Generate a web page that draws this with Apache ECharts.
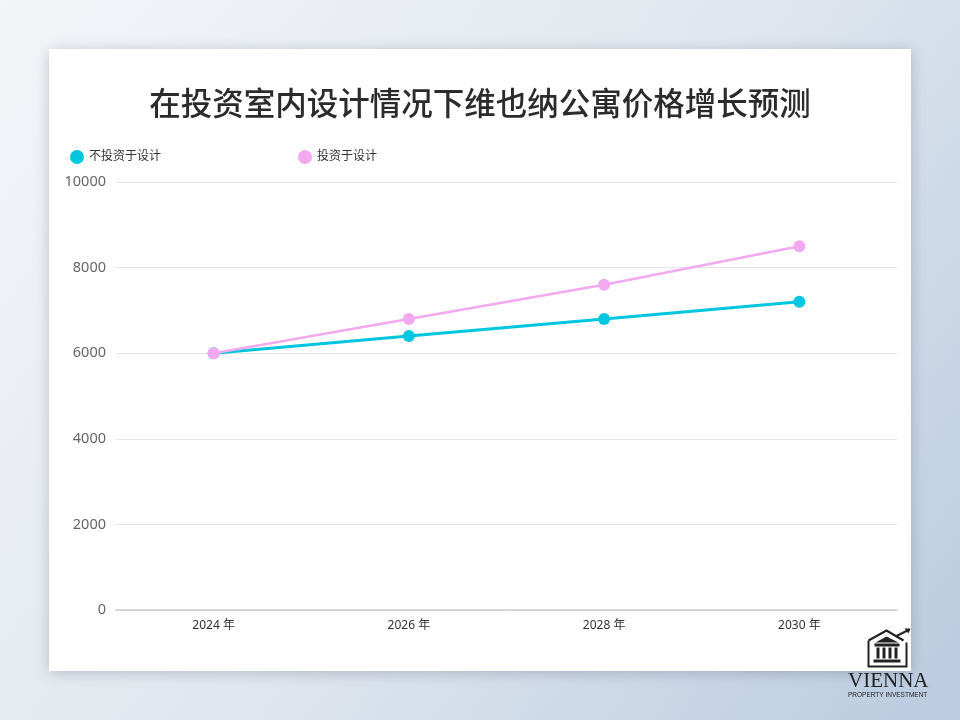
<!DOCTYPE html>
<html><head><meta charset="utf-8">
<script src="https://cdn.jsdelivr.net/npm/echarts@6/dist/echarts.min.js"></script>
<style>html,body{margin:0;padding:0;width:960px;height:720px;overflow:hidden}#c{width:960px;height:720px}</style>
</head><body><div id="c"></div>
<script>
const categories = ['2024 年', '2026 年', '2028 年', '2030 年'];
const noDesign = [6000, 6400, 6800, 7200];
const withDesign = [6000, 6800, 7600, 8500];
const seriesNames = ['不投资于设计', '投资于设计'];
const titleText = '在投资室内设计情况下维也纳公寓价格增长预测';

const chart = echarts.init(document.getElementById('c'), null, {renderer: 'canvas'});
const font = '"Noto Sans", "Noto Sans CJK SC", sans-serif';
chart.setOption({
  animation: false,
  textStyle: {fontFamily: font},
  graphic: [
    {type: 'rect', z: -10, shape: {x: 0, y: 0, width: 960, height: 720},
      style: {fill: new echarts.graphic.LinearGradient(0, 0, 1, 1, [
        {offset: 0, color: '#f3f5f8'}, {offset: 0.5, color: '#e1e7ef'}, {offset: 1, color: '#b9cbe0'}])}},
    {type: 'rect', z: -9, shape: {x: 49, y: 49, width: 862, height: 622},
      style: {fill: '#ffffff', shadowBlur: 14, shadowColor: 'rgba(60,70,90,0.28)', shadowOffsetX: 0, shadowOffsetY: 2}},
    // logo
    {type: 'group', z: 100, left: 866, top: 627, children: [
      {type: 'polyline', shape: {points: [[3, 12], [21, 2], [38, 12]]}, style: {stroke: '#222', lineWidth: 2.2, fill: null}},
      {type: 'polyline', shape: {points: [[30, 8], [44, 1]]}, style: {stroke: '#222', lineWidth: 2, fill: null}},
      {type: 'polygon', shape: {points: [[45, 0], [39, 0], [43, 5]]}, style: {fill: '#222'}},
      {type: 'polyline', shape: {points: [[3, 12], [3, 38], [41, 38], [41, 14]]}, style: {stroke: '#222', lineWidth: 2, fill: null}},
      {type: 'polygon', shape: {points: [[10, 14], [21, 8], [33, 14]]}, style: {fill: '#222'}},
      {type: 'rect', shape: {x: 9, y: 15, width: 25, height: 3}, style: {fill: '#222'}},
      {type: 'rect', shape: {x: 11, y: 19, width: 3, height: 11}, style: {fill: '#222'}},
      {type: 'rect', shape: {x: 17, y: 19, width: 3, height: 11}, style: {fill: '#222'}},
      {type: 'rect', shape: {x: 23, y: 19, width: 3, height: 11}, style: {fill: '#222'}},
      {type: 'rect', shape: {x: 29, y: 19, width: 3, height: 11}, style: {fill: '#222'}},
      {type: 'rect', shape: {x: 8, y: 31, width: 27, height: 3}, style: {fill: '#222'}}
    ]},
    {type: 'text', z: 100, left: 848, top: 671, style: {text: 'VIENNA', font: '21px "Liberation Serif", "DejaVu Serif", serif', fill: '#222'}},
    {type: 'text', z: 100, left: 848, top: 692, style: {text: 'PROPERTY INVESTMENT', font: '6.5px "Liberation Sans", sans-serif', fill: '#222'}}
  ],
  title: {text: titleText, left: 'center', top: 82,
    textStyle: {fontSize: 31.5, fontWeight: 500, color: '#2b2b2b', fontFamily: '"Noto Sans CJK SC", sans-serif'}},
  legend: [
    {data: [seriesNames[0]], left: 65, top: 145, icon: 'circle', itemWidth: 14, itemHeight: 14,
      textStyle: {fontSize: 12, color: '#333'}},
    {data: [seriesNames[1]], left: 293, top: 145, icon: 'circle', itemWidth: 14, itemHeight: 14,
      textStyle: {fontSize: 12, color: '#333'}}
  ],
  grid: {left: 116, right: 63, top: 182, bottom: 110, containLabel: false},
  xAxis: {type: 'category', data: categories, boundaryGap: true,
    axisLine: {lineStyle: {color: '#cccccc', width: 1.5}}, axisTick: {show: false},
    axisLabel: {fontSize: 12, color: '#333', margin: 10}},
  yAxis: {type: 'value', min: 0, max: 10000, interval: 2000,
    axisLine: {show: false}, axisTick: {show: false},
    axisLabel: {fontSize: 14.5, color: '#666', margin: 10, formatter: v => String(v)},
    splitLine: {lineStyle: {color: '#e6e6e6', width: 1}}},
  series: [
    {name: seriesNames[0], type: 'line', data: noDesign, color: '#00c6df', symbol: 'circle', symbolSize: 12,
      lineStyle: {width: 3}, z: 2},
    {name: seriesNames[1], type: 'line', data: withDesign, color: '#f2a9ef', symbol: 'circle', symbolSize: 12,
      lineStyle: {width: 2.5}, z: 3}
  ]
});
</script></body></html>
